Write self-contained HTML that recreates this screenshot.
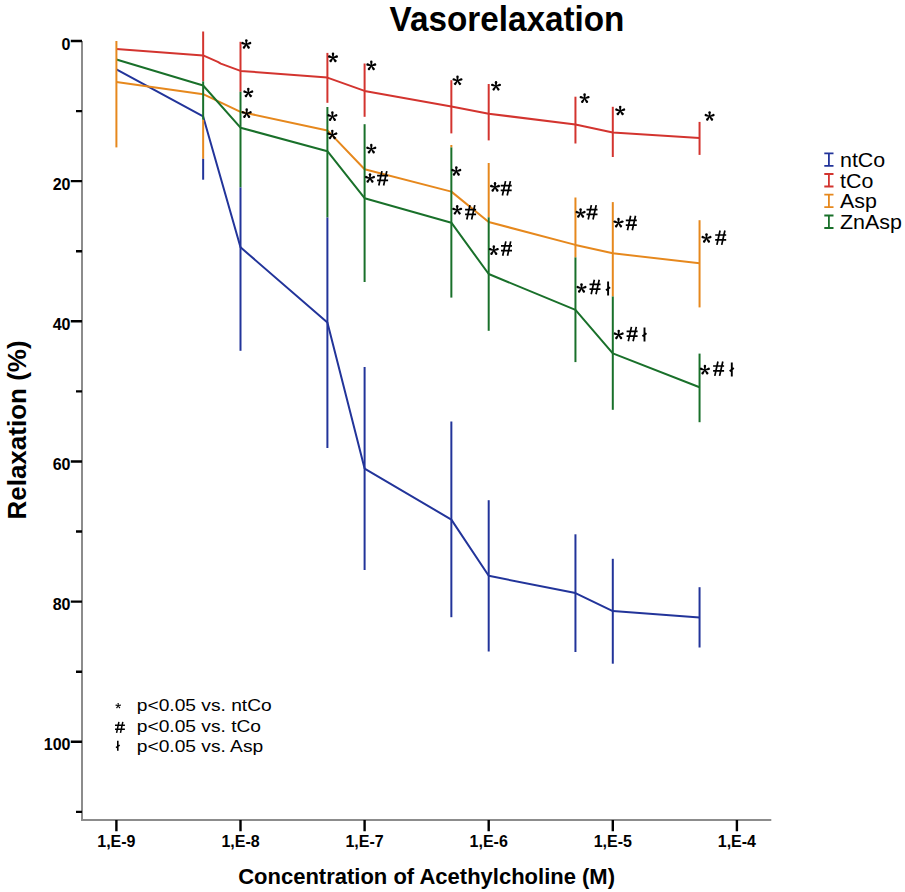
<!DOCTYPE html><html><head><meta charset="utf-8"><style>html,body{margin:0;padding:0;background:#fff}svg{display:block}</style></head><body>
<svg width="905" height="892" viewBox="0 0 905 892" font-family="'Liberation Sans', sans-serif">
<defs>
<g id="ast"><path d="M-0.5 0.3L-1.22 -4.0A1.22 1.22 0 0 1 1.22 -4.0L0.5 0.3Z" transform="rotate(0)"/><path d="M-0.5 0.3L-1.22 -4.0A1.22 1.22 0 0 1 1.22 -4.0L0.5 0.3Z" transform="rotate(72)"/><path d="M-0.5 0.3L-1.22 -4.0A1.22 1.22 0 0 1 1.22 -4.0L0.5 0.3Z" transform="rotate(144)"/><path d="M-0.5 0.3L-1.22 -4.0A1.22 1.22 0 0 1 1.22 -4.0L0.5 0.3Z" transform="rotate(216)"/><path d="M-0.5 0.3L-1.22 -4.0A1.22 1.22 0 0 1 1.22 -4.0L0.5 0.3Z" transform="rotate(288)"/></g>
<path id="hash" d="M-0.65 -7.2L-3.8 7.2M4.2 -7.2L1.0 7.2M-5.5 -2.7L5.5 -2.7M-5.5 2.1L5.5 2.1" stroke="#000" stroke-width="1.7" fill="none"/>
<path id="lst" d="M0 -7V7M-2.1 1.7L2 -1.4" stroke="#000" stroke-width="1.9" fill="none"/>
</defs>
<g stroke="#8c8c8c" stroke-width="2" fill="none"><path d="M82 41V820M81 820H771.3"/></g>
<path d="M70.8 41.00H82M76 111.08H82M70.8 181.16H82M76 251.24H82M70.8 321.32H82M76 391.40H82M70.8 461.48H82M76 531.56H82M70.8 601.64H82M76 671.72H82M70.8 741.80H82M76 811.88H82" stroke="#000" stroke-width="2.4" fill="none"/>
<path d="M116.40 820V831.3M240.50 820V831.3M364.60 820V831.3M488.70 820V831.3M612.80 820V831.3M736.90 820V831.3" stroke="#000" stroke-width="2.4" fill="none"/>
<g font-size="16" font-weight="bold" text-anchor="end" fill="#000">
<text x="70.5" y="49.60">0</text>
<text x="70.5" y="189.76">20</text>
<text x="70.5" y="329.92">40</text>
<text x="70.5" y="470.08">60</text>
<text x="70.5" y="610.24">80</text>
<text x="70.5" y="750.40">100</text>
</g>
<g font-size="16" font-weight="bold" text-anchor="middle" fill="#000">
<text x="116.40" y="847">1,E-9</text>
<text x="240.50" y="847">1,E-8</text>
<text x="364.60" y="847">1,E-7</text>
<text x="488.70" y="847">1,E-6</text>
<text x="612.80" y="847">1,E-5</text>
<text x="736.90" y="847">1,E-4</text>
</g>
<polyline points="116.40,69.30 203.15,116.40 240.50,247.30 327.40,322.40 364.60,468.60 451.35,519.60 488.70,575.80 575.45,593.10 612.80,611.10 699.55,617.40" stroke="#22349a" stroke-width="2" fill="none" stroke-linejoin="round"/>
<polyline points="116.40,48.90 203.15,55.40 217.80,61.80 220.80,63.60 240.50,70.90 327.40,77.60 364.60,90.90 451.35,106.50 488.70,113.70 575.45,124.60 612.80,132.60 699.55,138.10" stroke="#d3342f" stroke-width="2" fill="none" stroke-linejoin="round"/>
<polyline points="116.40,82.10 203.15,94.20 240.50,111.80 327.40,130.40 364.60,169.30 451.35,191.60 488.70,222.00 575.45,244.90 612.80,253.30 699.55,263.30" stroke="#e6881d" stroke-width="2" fill="none" stroke-linejoin="round"/>
<polyline points="116.40,59.50 203.15,85.50 240.50,127.70 327.40,151.20 364.60,198.20 451.35,222.70 488.70,274.00 575.45,309.90 612.80,353.40 699.55,387.20" stroke="#19702a" stroke-width="2" fill="none" stroke-linejoin="round"/>
<path d="M116.40 41.00V147.40" stroke="#e6881d" stroke-width="2"/>
<path d="M203.15 31.50V81.40" stroke="#d3342f" stroke-width="2"/>
<path d="M203.15 81.40V119.80" stroke="#19702a" stroke-width="2"/>
<path d="M203.15 119.80V158.80" stroke="#e6881d" stroke-width="2"/>
<path d="M203.15 158.80V179.70" stroke="#22349a" stroke-width="2"/>
<path d="M240.50 41.80V91.70" stroke="#d3342f" stroke-width="2"/>
<path d="M240.50 91.70V187.40" stroke="#19702a" stroke-width="2"/>
<path d="M240.50 187.40V350.80" stroke="#22349a" stroke-width="2"/>
<path d="M327.40 52.90V102.80" stroke="#d3342f" stroke-width="2"/>
<path d="M327.40 107.00V217.50" stroke="#19702a" stroke-width="2"/>
<path d="M327.40 217.50V448.00" stroke="#22349a" stroke-width="2"/>
<path d="M364.60 63.50V116.80" stroke="#d3342f" stroke-width="2"/>
<path d="M364.60 124.20V282.00" stroke="#19702a" stroke-width="2"/>
<path d="M364.60 367.00V570.00" stroke="#22349a" stroke-width="2"/>
<path d="M451.35 80.20V133.40" stroke="#d3342f" stroke-width="2"/>
<path d="M451.35 145.00V147.40" stroke="#e6881d" stroke-width="2"/>
<path d="M451.35 147.40V297.60" stroke="#19702a" stroke-width="2"/>
<path d="M451.35 421.50V617.20" stroke="#22349a" stroke-width="2"/>
<path d="M488.70 84.00V140.40" stroke="#d3342f" stroke-width="2"/>
<path d="M488.70 163.00V217.30" stroke="#e6881d" stroke-width="2"/>
<path d="M488.70 217.30V330.80" stroke="#19702a" stroke-width="2"/>
<path d="M488.70 500.20V651.50" stroke="#22349a" stroke-width="2"/>
<path d="M575.45 96.70V143.50" stroke="#d3342f" stroke-width="2"/>
<path d="M575.45 197.50V257.40" stroke="#e6881d" stroke-width="2"/>
<path d="M575.45 257.40V362.10" stroke="#19702a" stroke-width="2"/>
<path d="M575.45 534.30V652.00" stroke="#22349a" stroke-width="2"/>
<path d="M612.80 106.80V157.00" stroke="#d3342f" stroke-width="2"/>
<path d="M612.80 202.10V296.50" stroke="#e6881d" stroke-width="2"/>
<path d="M612.80 296.50V409.80" stroke="#19702a" stroke-width="2"/>
<path d="M612.80 558.80V663.70" stroke="#22349a" stroke-width="2"/>
<path d="M699.55 121.90V154.90" stroke="#d3342f" stroke-width="2"/>
<path d="M699.55 220.20V307.40" stroke="#e6881d" stroke-width="2"/>
<path d="M699.55 353.60V422.20" stroke="#19702a" stroke-width="2"/>
<path d="M699.55 587.20V647.50" stroke="#22349a" stroke-width="2"/>
<use href="#ast" x="246.30" y="44.35"/>
<use href="#ast" x="248.30" y="92.85"/>
<use href="#ast" x="246.70" y="113.55"/>
<use href="#ast" x="333.00" y="57.75"/>
<use href="#ast" x="332.40" y="116.55"/>
<use href="#ast" x="332.30" y="134.85"/>
<use href="#ast" x="371.30" y="65.75"/>
<use href="#ast" x="371.30" y="149.05"/>
<use href="#ast" x="370.00" y="178.35"/>
<use href="#hash" x="382.60" y="178.30"/>
<use href="#ast" x="457.50" y="80.65"/>
<use href="#ast" x="456.30" y="171.35"/>
<use href="#ast" x="457.20" y="210.15"/>
<use href="#hash" x="470.60" y="212.30"/>
<use href="#ast" x="496.00" y="86.15"/>
<use href="#ast" x="495.00" y="187.25"/>
<use href="#hash" x="506.20" y="188.30"/>
<use href="#ast" x="493.80" y="250.45"/>
<use href="#hash" x="506.50" y="248.60"/>
<use href="#ast" x="584.60" y="98.45"/>
<use href="#ast" x="580.60" y="213.35"/>
<use href="#hash" x="592.00" y="212.30"/>
<use href="#ast" x="581.50" y="288.35"/>
<use href="#hash" x="595.00" y="287.00"/>
<use href="#lst" x="608.10" y="288.60"/>
<use href="#ast" x="620.20" y="110.85"/>
<use href="#ast" x="618.50" y="222.95"/>
<use href="#hash" x="631.30" y="223.00"/>
<use href="#ast" x="618.70" y="334.85"/>
<use href="#hash" x="632.10" y="334.10"/>
<use href="#lst" x="644.50" y="334.60"/>
<use href="#ast" x="709.60" y="116.35"/>
<use href="#ast" x="706.50" y="238.35"/>
<use href="#hash" x="720.70" y="237.70"/>
<use href="#ast" x="704.90" y="370.05"/>
<use href="#hash" x="718.60" y="368.70"/>
<use href="#lst" x="731.80" y="369.50"/>
<text x="507" y="30.5" font-size="35.2" font-weight="bold" text-anchor="middle" transform="translate(507 0) scale(0.945 1) translate(-507 0)">Vasorelaxation</text>
<text x="426.6" y="884" font-size="22" font-weight="bold" text-anchor="middle">Concentration of Acethylcholine (M)</text>
<text transform="translate(26 430) rotate(-90)" x="0" y="0" font-size="26" font-weight="bold" text-anchor="middle">Relaxation (%)</text>
<path d="M824.3 153.30H833.5M828.9 153.30V165.80M824.3 165.80H833.5" stroke="#22349a" stroke-width="1.8" fill="none"/>
<text x="0" y="0" font-size="20" transform="translate(840 166.80) scale(1.07 1)">ntCo</text>
<path d="M824.3 174.00H833.5M828.9 174.00V186.50M824.3 186.50H833.5" stroke="#d3342f" stroke-width="1.8" fill="none"/>
<text x="0" y="0" font-size="20" transform="translate(840 187.50) scale(1.07 1)">tCo</text>
<path d="M824.3 194.70H833.5M828.9 194.70V207.20M824.3 207.20H833.5" stroke="#e6881d" stroke-width="1.8" fill="none"/>
<text x="0" y="0" font-size="20" transform="translate(840 208.20) scale(1.07 1)">Asp</text>
<path d="M824.3 215.50H833.5M828.9 215.50V228.00M824.3 228.00H833.5" stroke="#19702a" stroke-width="1.8" fill="none"/>
<text x="0" y="0" font-size="20" transform="translate(840 229.00) scale(1.07 1)">ZnAsp</text>
<text x="0" y="0" font-size="16" transform="translate(136.8 710.70) scale(1.2 1)">p&lt;0.05 vs. ntCo</text>
<text x="0" y="0" font-size="16" transform="translate(136.8 731.50) scale(1.2 1)">p&lt;0.05 vs. tCo</text>
<text x="0" y="0" font-size="16" transform="translate(136.8 752.20) scale(1.2 1)">p&lt;0.05 vs. Asp</text>
<use href="#ast" transform="translate(118.2 705.8) scale(0.56)"/>
<path d="M118.9 721.8L116.6 732.8M122.8 721.8L120.5 732.8M115 725.3H124.9M115 729.2H124.9" stroke="#000" stroke-width="1.5" fill="none"/>
<path d="M117.8 740.7V750.7M116 747.6L119.7 745.2" stroke="#000" stroke-width="1.6" fill="none"/>
</svg></body></html>
